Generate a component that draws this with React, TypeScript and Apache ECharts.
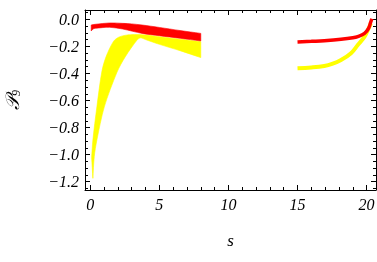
import React, { useEffect, useRef } from 'react';
import * as echarts from 'echarts';

// Left region bands: [s, value] edges
const redBandUpper: [number, number][] = [
  [0.07, -0.042], [0.36, -0.037], [1.4, -0.027], [2.35, -0.03], [3.0, -0.034],
  [3.75, -0.042], [5.0, -0.06], [6.5, -0.083], [8.0, -0.104],
];
const redBandLower: [number, number][] = [
  [0.07, -0.086], [0.2, -0.072], [0.36, -0.067], [1.4, -0.059], [2.35, -0.072],
  [3.75, -0.104], [5.0, -0.121], [6.5, -0.14], [8.0, -0.16],
];
const yellowBandUpper: [number, number][] = [
  [0.1, -1.02], [0.19, -0.892], [0.48, -0.646], [0.85, -0.38], [1.16, -0.272],
  [1.69, -0.162], [2.1, -0.13], [2.6, -0.117], [3.2, -0.113], [4.0, -0.116],
  [5.0, -0.128], [6.5, -0.147], [8.0, -0.165],
];
const yellowBandLower: [number, number][] = [
  [0.19, -1.175], [0.29, -1.015], [0.48, -0.892], [1.02, -0.646], [1.94, -0.39],
  [2.54, -0.276], [3.39, -0.153], [3.65, -0.137], [4.0, -0.15], [5.0, -0.185],
  [6.5, -0.232], [8.0, -0.283],
];

// Right region curves
const redRight: [number, number][] = [
  [15.0, -0.168], [16.0, -0.163], [16.94, -0.158], [18.15, -0.148], [19.0, -0.137],
  [19.36, -0.128], [19.85, -0.104], [20.14, -0.067], [20.3, -0.02], [20.38, 0.004],
];
const yellowRight: [number, number][] = [
  [15.0, -0.362], [16.0, -0.356], [16.94, -0.345], [17.5, -0.33], [18.15, -0.301],
  [18.87, -0.251], [19.36, -0.19], [19.85, -0.128], [20.2, -0.055], [20.3, -0.03],
];

const xMin = -0.38;
const xMax = 20.68;
const yMin = -1.261;
const yMax = 0.0687;

const serif = 'Liberation Serif';

export default function App() {
  const ref = useRef<HTMLDivElement>(null);
  useEffect(() => {
    const chart = echarts.init(ref.current!, null, { renderer: 'svg' });

    const band = (upper: [number, number][], lower: [number, number][], color: string, z: number) => ({
      type: 'custom',
      xAxisIndex: 0,
      yAxisIndex: 0,
      z,
      silent: true,
      clip: true,
      data: [upper[0]],
      renderItem: (_params: any, api: any) => {
        const u = upper.map((p) => api.coord(p));
        const l = lower.slice().reverse().map((p) => api.coord(p));
        // repeat end points so the cut ends stay sharp
        const pts = [u[0], ...u, u[u.length - 1], l[0], ...l, l[l.length - 1]];
        return {
          type: 'polygon',
          shape: { points: pts, smooth: 0.3 },
          style: { fill: color, stroke: color, lineWidth: 0.6 },
        };
      },
    });

    const axisCommon = {
      axisLine: { show: true, onZero: false, lineStyle: { color: '#000', width: 1 } },
      axisTick: { show: true, inside: true, length: 5, lineStyle: { color: '#000', width: 1 } },
      minorTick: { show: true, length: 3, lineStyle: { color: '#000', width: 1 } },
      splitLine: { show: false },
    };
    const labelStyle = {
      fontFamily: serif,
      fontStyle: 'italic',
      fontSize: 16,
      color: '#000',
    };
    const yFmt = (v: number) => (Math.abs(v) < 1e-9 ? '0.0' : v.toFixed(1).replace('-', '\u2212'));

    chart.setOption({
      animation: false,
      grid: { left: 85, right: 1, top: 10, bottom: 72, containLabel: false, outerBoundsMode: 'none' },
      xAxis: [
        {
          type: 'value', min: xMin, max: xMax, splitNumber: 4, minInterval: 5, maxInterval: 5,
          position: 'bottom',
          ...axisCommon,
          minorTick: { ...axisCommon.minorTick, splitNumber: 5 },
          axisLabel: { ...labelStyle, showMinLabel: false, showMaxLabel: false, margin: 6 },
          name: 's', nameLocation: 'middle', nameGap: 42,
          nameTextStyle: { ...labelStyle, fontSize: 17 },
        },
        {
          type: 'value', min: xMin, max: xMax, splitNumber: 4, minInterval: 5, maxInterval: 5,
          position: 'top',
          ...axisCommon,
          minorTick: { ...axisCommon.minorTick, splitNumber: 5 },
          axisLabel: { show: false },
        },
      ],
      yAxis: [
        {
          type: 'value', min: yMin, max: yMax, splitNumber: 6, minInterval: 0.2, maxInterval: 0.2,
          position: 'left',
          ...axisCommon,
          minorTick: { ...axisCommon.minorTick, splitNumber: 4 },
          axisLabel: { ...labelStyle, showMinLabel: false, showMaxLabel: false, margin: 6, formatter: yFmt },
          name: '{p|\u{1D4AB}}{s|9}', nameLocation: 'middle', nameGap: 63, nameRotate: 90,
          nameTextStyle: {
            rich: {
              p: { fontFamily: 'DejaVu Serif, DejaVu Sans, serif', fontStyle: 'italic', fontSize: 19, color: '#000' },
              s: { fontFamily: serif, fontStyle: 'italic', fontSize: 12, color: '#000', padding: [8, 0, 0, 0] },
            },
          },
        },
        {
          type: 'value', min: yMin, max: yMax, splitNumber: 6, minInterval: 0.2, maxInterval: 0.2,
          position: 'right',
          ...axisCommon,
          minorTick: { ...axisCommon.minorTick, splitNumber: 4 },
          axisLabel: { show: false },
        },
      ],
      series: [
        band(yellowBandUpper, yellowBandLower, '#FFFF00', 2),
        band(redBandUpper, redBandLower, '#FF0000', 3),
        {
          type: 'line', data: yellowRight, smooth: 0.4, showSymbol: false, z: 4,
          lineStyle: { color: '#FFFF00', width: 4 }, silent: true,
        },
        {
          type: 'line', data: redRight, smooth: 0.4, showSymbol: false, z: 5,
          lineStyle: { color: '#FF0000', width: 3.5 }, silent: true,
        },
      ],
    });
    return () => chart.dispose();
  }, []);
  return <div ref={ref} style={{ position: 'fixed', left: 0, top: 0, width: 377, height: 262 }} />;
}
